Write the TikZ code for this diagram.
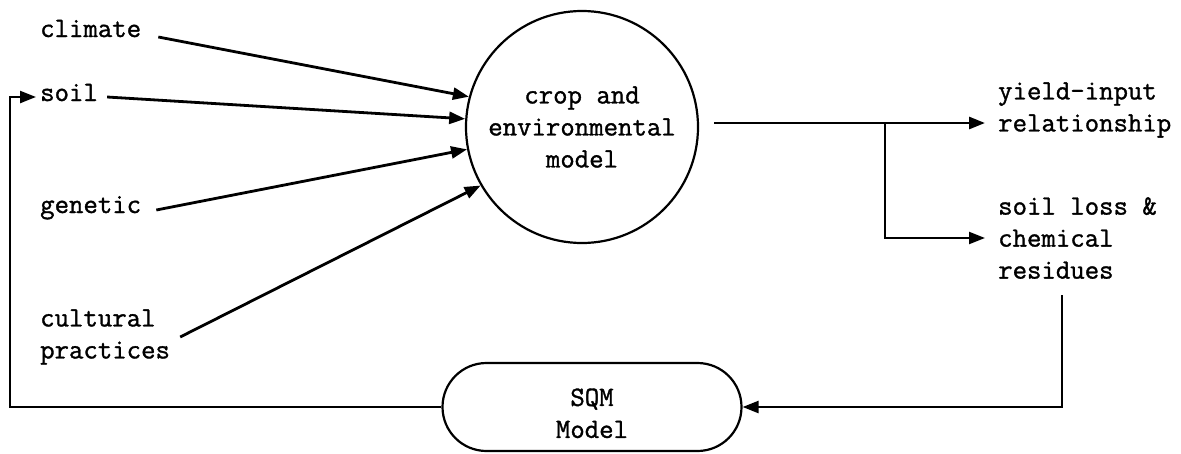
\documentclass[tikz,border=0pt]{standalone}
\usepackage{fontspec}
\usetikzlibrary{arrows.meta}
\newfontfamily\labelfont[FakeBold=1.2]{Latin Modern Mono}
\begin{document}
\begin{tikzpicture}[x=1pt,y=-1pt,
  every node/.style={font=\labelfont\fontsize{28}{32}\selectfont, inner sep=0pt},
  lab/.style={align=left},
  arr/.style={line width=2.8pt, -{Triangle[length=16pt,width=12pt]}},
  shape line/.style={draw, line width=2.2pt}]
\useasboundingbox (0,0) rectangle (1181,453);

% central model
\node[shape line, circle, minimum size=232pt, align=center] (cm) at (582,127)
  {crop and\\environmental\\model};

% inputs
\node[anchor=base west] (climate) at (40,37) {climate};
\node[anchor=base west] (soil) at (40,101) {soil};
\node[anchor=base west] (genetic) at (40,213) {genetic};
\node[lab, anchor=west] (cult) at (40,337) {cultural\\practices};

% outputs
\node[lab, anchor=west] (yl) at (998,110) {yield-input\\relationship};
\node[lab, anchor=west] (sl) at (998,238) {soil loss \&\\chemical\\residues};

% feedback model
\node[shape line, rounded corners=44pt, minimum width=299pt, minimum height=88pt,
  align=center, text height=62pt] (sqm) at (592,407) {SQM\\Model};

% input arrows
\draw[arr] ([xshift=17pt]climate.base east) -- (cm.165);
\draw[arr] ([xshift=9pt,yshift=4pt]soil.base east) -- (cm.176);
\draw[arr] ([xshift=15pt,yshift=3pt]genetic.base east) -- (cm.191);
\draw[arr] ([xshift=10pt]cult.east) -- (cm.210);

% output arrows
\coordinate (o1) at ([xshift=15pt,yshift=4pt]cm.east);
\coordinate (br) at (885,123);
\draw[arr] (o1) -- ([xshift=-13pt]o1 -| yl.west);
\draw[arr, line width=2.2pt] (br) |- ([xshift=-13pt]sl.west);

% feedback loop
\coordinate (fb) at (1062,295);
\coordinate (lp) at (10,97);
\draw[arr, line width=2.4pt] (fb) |- (sqm.east);
\draw[arr, line width=2.4pt] (sqm.west) -| (lp) -- ([xshift=-4pt]lp -| soil.west);
\end{tikzpicture}
\end{document}
